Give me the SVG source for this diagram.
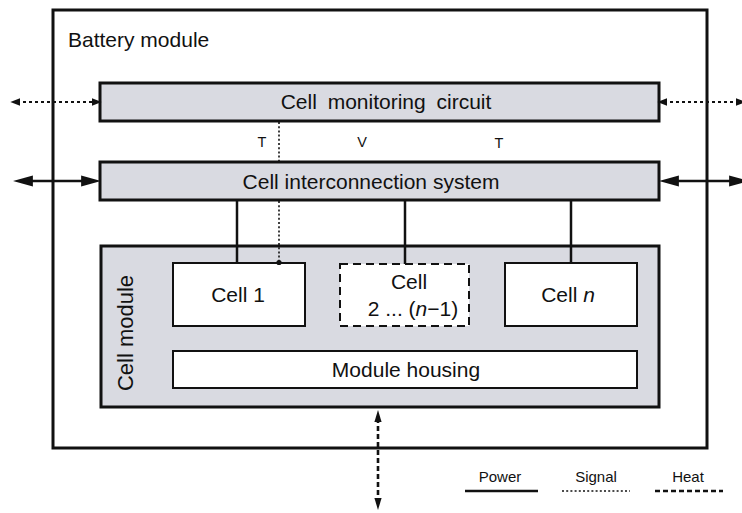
<svg xmlns="http://www.w3.org/2000/svg" width="742" height="513" viewBox="0 0 742 513">
<defs>
<style>
.t{font-family:"Liberation Sans",Arial,Helvetica,sans-serif;fill:#111;}
.big{font-size:21px;}
.sm{font-size:14.5px;}
.lg{font-size:15px;}
.grey{fill:#d9dae1;stroke:#111;stroke-width:3;}
.white{fill:#fff;stroke:#111;stroke-width:2;}
.outer{fill:#fff;stroke:#111;stroke-width:3;}
.power{stroke:#111;stroke-width:2.5;fill:none;}
.signal{stroke:#111;stroke-width:1.6;stroke-dasharray:2 2.2;fill:none;}
.sigarrow{stroke:#111;stroke-width:2;stroke-dasharray:3 3;fill:none;}
.heat{stroke:#111;stroke-width:2.6;stroke-dasharray:5 3;fill:none;}
</style>
<marker id="pa" markerUnits="userSpaceOnUse" markerWidth="20" markerHeight="12" refX="8" refY="5" orient="auto-start-reverse" viewBox="0 0 18 10">
<path d="M0,0 L18,5 L0,10 Z" fill="#111"/>
</marker>
<marker id="sa" markerUnits="userSpaceOnUse" markerWidth="10" markerHeight="8" refX="3" refY="3.5" orient="auto-start-reverse" viewBox="0 0 9 7">
<path d="M0,0 L9,3.5 L0,7 Z" fill="#111"/>
</marker>
<marker id="ha" markerUnits="userSpaceOnUse" markerWidth="12" markerHeight="16" refX="5" refY="4.5" orient="auto-start-reverse" viewBox="0 0 15 9">
<path d="M0,0 L15,4.5 L0,9 Z" fill="#111"/>
</marker>
</defs>

<g id="battery-module">
<rect class="outer" x="53" y="10" width="654" height="438"/>
<text class="t big" x="68" y="47">Battery module</text>
</g>

<g id="cell-monitoring-circuit">
<rect class="grey" x="100" y="83" width="559" height="38"/>
<text class="t big" x="386" y="109" text-anchor="middle" word-spacing="5">Cell monitoring circuit</text>
</g>

<g id="cell-interconnection-system">
<rect class="grey" x="100" y="162" width="559" height="38"/>
<text class="t big" x="371" y="188.5" text-anchor="middle">Cell interconnection system</text>
</g>

<g id="cell-module">
<rect class="grey" x="101" y="246" width="558" height="161"/>
<text class="t" font-size="22" transform="translate(133,333) rotate(-90)" text-anchor="middle">Cell module</text>
</g>

<g id="cell-1">
<rect class="white" x="173" y="263" width="132" height="63"/>
<text class="t big" x="238" y="302" text-anchor="middle">Cell 1</text>
</g>

<g id="cell-2">
<rect class="white" x="340" y="264" width="129" height="62" stroke-dasharray="8 5"/>
<text class="t big" x="409" y="289" text-anchor="middle">Cell</text>
<text class="t big" x="413" y="316" text-anchor="middle">2 ... (<tspan font-style="italic">n</tspan>−1)</text>
</g>

<g id="cell-n">
<rect class="white" x="505" y="263" width="132" height="63"/>
<text class="t big" x="568" y="302" text-anchor="middle">Cell <tspan font-style="italic">n</tspan></text>
</g>

<g id="module-housing">
<rect class="white" x="173" y="351" width="464" height="37"/>
<text class="t big" x="406" y="376.5" text-anchor="middle">Module housing</text>
</g>

<g id="connectors">
<line class="power" x1="24" y1="181" x2="90" y2="181" marker-start="url(#pa)" marker-end="url(#pa)"/>
<line class="power" x1="670" y1="181" x2="738" y2="181" marker-start="url(#pa)" marker-end="url(#pa)"/>
<line class="sigarrow" x1="17" y1="102" x2="95" y2="102" marker-start="url(#sa)" marker-end="url(#sa)"/>
<line class="sigarrow" x1="664" y1="102" x2="739" y2="102" marker-start="url(#sa)" marker-end="url(#sa)"/>
<line class="power" x1="237" y1="200" x2="237" y2="263"/>
<line class="power" x1="405" y1="200" x2="405" y2="264"/>
<line class="power" x1="571" y1="200" x2="571" y2="263"/>
<line class="signal" x1="279" y1="122" x2="279" y2="161"/>
<line class="signal" x1="279" y1="201" x2="279" y2="262"/>
<circle cx="279" cy="262.5" r="2.6" fill="#111"/>
<line class="heat" x1="378" y1="418" x2="378" y2="502" marker-start="url(#ha)" marker-end="url(#ha)"/>
<text class="t sm" x="262" y="147" text-anchor="middle">T</text>
<text class="t sm" x="362" y="147" text-anchor="middle">V</text>
<text class="t sm" x="499" y="148" text-anchor="middle">T</text>
</g>

<g id="legend">
<text class="t lg" x="500" y="482" text-anchor="middle">Power</text>
<line class="power" x1="465" y1="491" x2="538" y2="491" stroke-width="3"/>
<text class="t lg" x="596" y="482" text-anchor="middle">Signal</text>
<line class="signal" x1="562" y1="491" x2="630" y2="491" stroke-width="1.4"/>
<text class="t lg" x="688" y="482" text-anchor="middle">Heat</text>
<line class="heat" x1="655" y1="491" x2="723" y2="491"/>
</g>
</svg>
